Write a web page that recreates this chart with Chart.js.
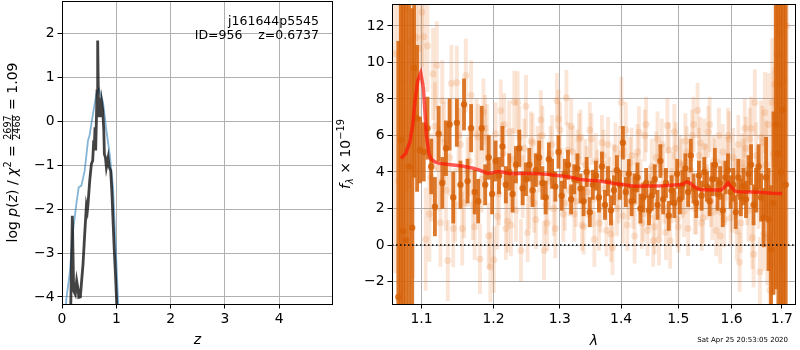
<!DOCTYPE html>
<html>
<head>
<meta charset="utf-8">
<script src="https://cdn.jsdelivr.net/npm/chart.js@4.4.1/dist/chart.umd.min.js"></script>
<style>
html, body { margin: 0; padding: 0; background: #fff; }
#wrap { position: relative; width: 800px; height: 350px; }
canvas { position: absolute; left: 0; top: 0; }
</style>
</head>
<body>
<div id="wrap">
  <canvas id="pz" width="800" height="350"></canvas>
  <canvas id="spec" width="800" height="350"></canvas>
</div>
<script>
// left panel: log p(z)
var zTicks = [0, 1, 2, 3, 4];
var logpTicks = [-4, -3, -2, -1, 0, 1, 2];
var zFit = [0.16, 0.19, 0.215, 0.245, 0.27, 0.295, 0.31, 0.338, 0.357, 0.387, 0.418, 0.449, 0.467, 0.479, 0.51, 0.541, 0.565, 0.584, 0.596, 0.608, 0.62, 0.633, 0.645, 0.657, 0.67, 0.681, 0.70, 0.71, 0.73, 0.75, 0.77, 0.78, 0.80, 0.817, 0.835, 0.85, 0.87, 0.897, 0.92, 0.96, 0.99, 1.01];
var logpFit = [-4.3, -2.15, -3.86, -3.94, -3.63, -3.82, -4.01, -4.0, -3.7, -3.25, -2.57, -1.92, -2.03, -1.88, -1.35, -0.97, -0.89, -0.43, -0.55, -0.13, -0.66, 0.02, 0.7, 1.85, 0.55, 0.1, 0.33, 0.1, 0.44, 0.25, -0.2, -0.74, -0.82, -1.04, -0.92, -0.82, -1.04, -1.12, -1.65, -2.87, -3.63, -4.24];
var zPrior = [0.06, 0.08, 0.142, 0.203, 0.265, 0.308, 0.357, 0.418, 0.479, 0.51, 0.571, 0.633, 0.681, 0.755, 0.817, 0.878, 0.94, 1.0, 1.03, 1.05];
var logpPrior = [-4.6, -4.04, -3.47, -2.49, -1.87, -1.5, -1.46, -1.12, -0.43, -0.3, 0.18, 0.63, 0.75, 0.44, -0.2, -0.74, -1.5, -3.17, -4.0, -4.5];

// right panel: spectrum
var lamTicks = [1.1, 1.2, 1.3, 1.4, 1.5, 1.6, 1.7];
var fluxTicks = [-2, 0, 2, 4, 6, 8, 10, 12];

var lamDark = [1.0697, 1.0729, 1.0759, 1.0794, 1.0835, 1.0877, 1.0903, 1.0942,
  1.098, 1.103, 1.108, 1.113, 1.118, 1.123, 1.128, 1.133, 1.138, 1.143,
  1.148, 1.153, 1.158, 1.163, 1.168, 1.173, 1.178, 1.183, 1.188, 1.193,
  1.198, 1.203, 1.208, 1.213, 1.218, 1.223, 1.228, 1.233, 1.238, 1.243,
  1.248, 1.253, 1.258, 1.263, 1.268, 1.273, 1.278, 1.283, 1.288, 1.293,
  1.298, 1.303, 1.308, 1.313, 1.318, 1.323, 1.328, 1.333, 1.338, 1.343,
  1.348, 1.353, 1.358, 1.363, 1.368, 1.373, 1.378, 1.383, 1.388, 1.393,
  1.398, 1.403, 1.408, 1.413, 1.418, 1.423, 1.428, 1.433, 1.438, 1.443,
  1.448, 1.453, 1.458, 1.463, 1.468, 1.473, 1.478, 1.483, 1.488, 1.493,
  1.498, 1.503, 1.508, 1.513, 1.518, 1.523, 1.528, 1.533, 1.538, 1.543,
  1.548, 1.553, 1.558, 1.563, 1.568, 1.573, 1.578, 1.583, 1.588, 1.593,
  1.598, 1.603, 1.608, 1.613, 1.618, 1.623, 1.628, 1.633, 1.638, 1.643,
  1.648, 1.653, 1.658, 1.663, 1.668, 1.673, 1.678, 1.683, 1.688, 1.693,
  1.698, 1.703, 1.708];
var fluxDark = [-2.85, 5.76, 0.77, 0.27, 4.3, 0.95, 9.7, 6.93,
  5.2, 5.1, 6.4, 4.3, 2.1, 6.1, 3.4, 5.3, 6.6, 2.6,
  6.7, 3.3, 7.7, 3.5, 6.4, 2.9, 2.4, 6.4, 3.3, 4.8,
  2.8, 4.6, 3.8, 5.4, 3.3, 4.0, 2.8, 4.4, 5.3, 3.1,
  3.6, 4.4, 3.0, 4.1, 4.8, 3.4, 2.6, 4.7, 3.9, 3.2,
  5.1, 2.7, 3.9, 4.4, 2.5, 3.6, 4.2, 3.1, 2.4, 4.0,
  1.8, 3.3, 3.8, 2.6, 4.3, 2.2, 3.5, 1.9, 3.0, 4.1,
  3.3, 5.6, 2.9, 3.9, 2.4, 3.1, 3.7, 2.0, 2.6, 3.4,
  1.9, 2.7, 3.6, 2.2, 4.6, 2.5, 3.4, 1.6, 3.0, 2.3,
  3.9, 2.5, 3.3, 4.2, 2.9, 4.9, 3.1, 2.3, 3.8, 2.7,
  4.0, 3.2, 2.4, 3.6, 4.4, 2.8, 3.4, 1.9, 3.7, 4.1,
  2.9, 3.3, 1.8, 3.7, 2.6, 3.2, 2.5, 3.9, 4.4, 2.2,
  3.0, 4.3, 2.6, 1.5, 3.7, 1.4, -0.25, 2.3, 6.6, 5.0,
  4.0, 7.4, 3.3];
var errDark = [14, 14, 14, 14, 13, 12, 6, 4,
  1.8, 1.6, 1.7, 1.5, 1.6, 1.5, 1.4, 1.5, 1.4, 1.4,
  1.3, 1.3, 1.4, 1.2, 1.3, 1.2, 1.2, 1.2, 1.1, 1.2,
  1.1, 1.1, 1.0, 1.1, 1.0, 1.0, 1.0, 1.0, 1.0, 0.9,
  0.9, 0.9, 0.9, 0.9, 0.9, 0.9, 0.9, 0.9, 0.8, 0.8,
  0.9, 0.8, 0.8, 0.8, 0.8, 0.8, 0.8, 0.8, 0.8, 0.8,
  0.8, 0.8, 0.8, 0.8, 0.8, 0.8, 0.8, 0.8, 0.8, 0.8,
  0.8, 0.9, 0.8, 0.8, 0.8, 0.8, 0.8, 0.8, 0.8, 0.8,
  0.8, 0.8, 0.8, 0.8, 0.9, 0.8, 0.8, 0.8, 0.8, 0.8,
  0.8, 0.8, 0.8, 0.8, 0.8, 0.9, 0.8, 0.8, 0.8, 0.8,
  0.8, 0.8, 0.8, 0.9, 0.9, 0.9, 0.9, 0.9, 0.9, 0.9,
  0.9, 0.9, 0.9, 1.0, 1.0, 1.0, 1.0, 1.0, 1.1, 1.1,
  1.2, 1.2, 1.3, 1.6, 2.2, 2.8, 3.5, 5, 9, 12,
  14, 14, 14];

var lamLight = [1.0656, 1.0700, 1.0745, 1.0790, 1.0846, 1.0890, 1.0934, 1.0968,
  1.1005, 1.1055, 1.1105, 1.1155, 1.1205, 1.1255, 1.1305, 1.1355, 1.1405, 1.1455,
  1.1505, 1.1555, 1.1605, 1.1655, 1.1705, 1.1755, 1.1805, 1.1855, 1.1905, 1.1955,
  1.2005, 1.2055, 1.2105, 1.2155, 1.2205, 1.2255, 1.2305, 1.2355, 1.2405, 1.2455,
  1.2505, 1.2555, 1.2605, 1.2655, 1.2705, 1.2755, 1.2805, 1.2855, 1.2905, 1.2955,
  1.3005, 1.3055, 1.3105, 1.3155, 1.3205, 1.3255, 1.3305, 1.3355, 1.3405, 1.3455,
  1.3505, 1.3555, 1.3605, 1.3655, 1.3705, 1.3755, 1.3805, 1.3855, 1.3905, 1.3955,
  1.4005, 1.4055, 1.4105, 1.4155, 1.4205, 1.4255, 1.4305, 1.4355, 1.4405, 1.4455,
  1.4505, 1.4555, 1.4605, 1.4655, 1.4705, 1.4755, 1.4805, 1.4855, 1.4905, 1.4955,
  1.5005, 1.5055, 1.5105, 1.5155, 1.5205, 1.5255, 1.5305, 1.5355, 1.5405, 1.5455,
  1.5505, 1.5555, 1.5605, 1.5655, 1.5705, 1.5755, 1.5805, 1.5855, 1.5905, 1.5955,
  1.6005, 1.6055, 1.6105, 1.6155, 1.6205, 1.6255, 1.6305, 1.6355, 1.6405, 1.6455,
  1.6505, 1.6555, 1.6605, 1.6655, 1.6705, 1.6755, 1.6805, 1.6855, 1.6905, 1.6955,
  1.7005, 1.7055, 1.7105];
var fluxLight = [10.47, 3.5, 8.9, 12.9, 11.1, 4.2, 11.37, 10.77,
  12.75, 0.32, 1.7, 9.37, 9.84, 1.22, 5.6, -0.85, 8.84, 2.2,
  6.0, 0.9, 9.28, 4.6, 2.2, 6.1, -0.76, 7.3, 5.9, -1.21,
  -0.8, 1.58, 7.35, 6.6, 1.3, 1.1, 7.83, 7.8, -0.3, 5.3,
  0.68, 5.7, 2.3, 4.9, 6.86, -0.3, 1.2, 5.0, 2.0, 7.9,
  6.3, 1.7, 8.07, 3.0, 5.1, 2.4, 5.8, 1.1, 4.4, 2.9,
  5.8, 0.32, 3.8, 2.1, 4.9, 0.8, 3.4, -0.13, 5.3, 2.6,
  7.8, 3.9, 1.1, 4.5, 2.3, 3.6, 6.18, 1.2, 6.0, 0.8,
  2.9, 0.23, 4.8, 0.3, 5.5, 2.6, 6.54, 0.23, 3.7, 5.3,
  1.0, 4.4, 1.85, 5.1, 3.3, 6.0, 2.0, 7.37, 5.6, 1.5,
  4.1, 6.2, 2.4, 4.6, 0.8, 6.0, 3.1, 1.4, 4.4, 5.8,
  2.2, 3.8, 0.77, -0.94, 4.5, 6.4, 2.7, 5.8, 0.4, 7.8,
  3.6, -1.48, 5.6, 7.26, 0.4, -2.47, 7.8, 8.8, 10.4, 11.6,
  -3.2, 9.0, 12.0];
var errLight = [12, 12, 12, 10, 8, 6, 5, 4,
  3.0, 2.8, 2.6, 2.5, 2.4, 2.4, 2.2, 2.2, 2.1, 2.0,
  2.0, 2.0, 2.0, 1.9, 1.9, 1.9, 1.9, 1.8, 1.8, 1.9,
  1.8, 1.8, 1.7, 1.7, 1.7, 1.7, 1.7, 1.7, 1.7, 1.6,
  1.6, 1.6, 1.6, 1.6, 1.6, 1.6, 1.5, 1.5, 1.5, 1.5,
  1.5, 1.5, 1.5, 1.4, 1.4, 1.4, 1.4, 1.4, 1.4, 1.4,
  1.4, 1.5, 1.4, 1.4, 1.4, 1.4, 1.4, 1.5, 1.4, 1.4,
  1.4, 1.4, 1.4, 1.4, 1.4, 1.4, 1.4, 1.4, 1.4, 1.4,
  1.4, 1.4, 1.4, 1.4, 1.4, 1.4, 1.5, 1.5, 1.4, 1.4,
  1.4, 1.4, 1.4, 1.4, 1.4, 1.4, 1.4, 1.5, 1.4, 1.4,
  1.4, 1.4, 1.4, 1.4, 1.4, 1.5, 1.5, 1.5, 1.5, 1.5,
  1.5, 1.5, 1.6, 1.6, 1.6, 1.6, 1.6, 1.7, 1.7, 1.8,
  1.8, 1.9, 2.0, 2.2, 2.6, 3.0, 3.5, 4.5, 6, 8,
  10, 12, 12];

// second faint spectrum (other orient)
var lamLight2 = [1.103, 1.108, 1.113, 1.118, 1.123, 1.128, 1.133, 1.138, 1.143, 1.148,
  1.153, 1.158, 1.163, 1.168, 1.173, 1.178, 1.183, 1.188, 1.193, 1.198,
  1.203, 1.208, 1.213, 1.218, 1.223, 1.228, 1.233, 1.238, 1.243, 1.248,
  1.253, 1.258, 1.263, 1.268, 1.273, 1.278, 1.283, 1.288, 1.293, 1.298,
  1.303, 1.308, 1.313, 1.318, 1.323, 1.328, 1.333, 1.338, 1.343, 1.348,
  1.353, 1.358, 1.363, 1.368, 1.373, 1.378, 1.383, 1.388, 1.393, 1.398,
  1.403, 1.408, 1.413, 1.418, 1.423, 1.428, 1.433, 1.438, 1.443, 1.448,
  1.453, 1.458, 1.463, 1.468, 1.473, 1.478, 1.483, 1.488, 1.493, 1.498,
  1.503, 1.508, 1.513, 1.518, 1.523, 1.528, 1.533, 1.538, 1.543, 1.548,
  1.553, 1.558, 1.563, 1.568, 1.573, 1.578, 1.583, 1.588, 1.593, 1.598,
  1.603, 1.608, 1.613, 1.618, 1.623, 1.628, 1.633, 1.638, 1.643, 1.648,
  1.653, 1.658, 1.663, 1.668, 1.673, 1.678, 1.683, 1.688, 1.693, 1.698];
var fluxLight2 = [11.4, 10.9, 3.7, 6.5, 4.2, 7.9, 3.0, 4.8, 0.9, 8.9,
  5.5, 2.3, 4.0, 8.2, 1.0, 5.9, 3.6, 6.4, 0.5, 4.3,
  6.1, 2.8, 5.0, 0.9, 6.2, 4.7, 1.9, 5.9, 3.2, 7.6,
  2.5, 5.6, 1.4, 4.5, 6.0, 2.2, 3.5, 5.5, 0.9, 6.9,
  3.8, 2.3, 5.2, 6.5, 1.7, 4.8, 5.9, 1.0, 3.9, 6.3,
  2.5, 4.6, 1.2, 5.6, 3.1, 5.5, 0.6, 4.0, 2.0, 5.0,
  1.6, 6.3, 2.9, 4.9, 0.5, 5.1, 3.2, 1.7, 6.6, 2.4,
  4.3, 1.0, 5.8, 2.0, 4.0, 0.7, 5.2, 2.7, 6.2, 1.4,
  4.5, 3.0, 5.7, 0.9, 4.1, 6.6, 2.1, 4.9, 1.2, 5.4,
  2.9, 6.6, 1.8, 4.3, 3.2, 0.5, 5.1, 2.6, 6.0, 1.5,
  4.8, 3.1, 5.5, 1.2, 4.2, 5.3, 1.9, 6.4, -0.5, 4.9,
  2.8, 5.9, 0.6, 4.4, 6.6, -1.0, 5.0, 9.6, 12.3, 8.8];
var errLight2 = [2.6, 2.5, 2.4, 2.4, 2.3, 2.2, 2.2, 2.1, 2.1, 2.0,
  2.0, 1.9, 1.9, 1.9, 1.8, 1.8, 1.8, 1.8, 1.8, 1.7,
  1.7, 1.7, 1.7, 1.7, 1.7, 1.7, 1.7, 1.7, 1.7, 1.7,
  1.6, 1.6, 1.6, 1.6, 1.6, 1.6, 1.6, 1.6, 1.6, 1.6,
  1.5, 1.5, 1.5, 1.5, 1.5, 1.5, 1.5, 1.5, 1.5, 1.5,
  1.5, 1.5, 1.5, 1.5, 1.5, 1.5, 1.5, 1.5, 1.5, 1.5,
  1.5, 1.5, 1.5, 1.5, 1.5, 1.5, 1.5, 1.5, 1.5, 1.5,
  1.5, 1.5, 1.5, 1.5, 1.5, 1.5, 1.5, 1.5, 1.5, 1.5,
  1.5, 1.5, 1.5, 1.5, 1.5, 1.5, 1.5, 1.5, 1.5, 1.5,
  1.5, 1.5, 1.5, 1.5, 1.5, 1.5, 1.5, 1.5, 1.5, 1.5,
  1.6, 1.6, 1.6, 1.6, 1.6, 1.7, 1.7, 1.7, 1.8, 1.8,
  1.9, 2.0, 2.0, 2.4, 2.8, 3.5, 4.5, 6, 8, 10];

var lamModel = [1.073, 1.079, 1.0847, 1.0885, 1.0912, 1.095, 1.099, 1.1025, 1.1066, 1.110, 1.113, 1.118, 1.124, 1.14, 1.155, 1.1695, 1.18, 1.1917, 1.198, 1.2065, 1.215, 1.225, 1.24, 1.26, 1.28, 1.2895, 1.30, 1.315, 1.33, 1.345, 1.36, 1.38, 1.3915, 1.41, 1.425, 1.45, 1.475, 1.4994, 1.508, 1.515, 1.522, 1.53, 1.54, 1.56, 1.58, 1.587, 1.593, 1.60, 1.607, 1.62, 1.64, 1.66, 1.68, 1.7005];
var fluxModel = [4.74, 5.0, 5.64, 6.6, 7.8, 9.0, 9.42, 8.6, 6.0, 5.0, 4.7, 4.55, 4.47, 4.4, 4.33, 4.22, 4.1, 3.92, 3.95, 4.02, 3.98, 3.9, 3.92, 3.92, 3.88, 3.84, 3.8, 3.73, 3.6, 3.55, 3.52, 3.42, 3.35, 3.28, 3.22, 3.23, 3.25, 3.3, 3.32, 3.47, 3.38, 3.18, 3.04, 3.02, 3.02, 3.2, 3.42, 3.15, 2.95, 2.9, 2.9, 2.88, 2.84, 2.82];

var lamRange = [1.0615, 1.7294];
var fluxRange = [-3.23, 13.2];
var zRange = [0, 4.99];
var logpRange = [-4.16, 2.75];

function pts(xs, ys) { return xs.map(function (x, i) { return { x: x, y: ys[i] }; }); }
function bars(xs, ys, es) { return xs.map(function (x, i) { return { x: x, y: [ys[i] - es[i], ys[i] + es[i]] }; }); }
function minus(v) { return (v < 0 ? '\u2212' : '') + Math.abs(v); }

var FAM = '"DejaVu Sans"';
function R(s) { return s + 'px ' + FAM; }
function I(s) { return 'italic ' + s + 'px ' + FAM; }

// fixed box size for each axis, no extra label padding around the plot area
function fixSize(prop, size) {
  return function (s) {
    s[prop] = size;
    s.paddingTop = 0; s.paddingBottom = 0; s.paddingLeft = 0; s.paddingRight = 0;
  };
}

function axis(range, tickVals, fmt, fit, extra) {
  var o = {
    min: range[0], max: range[1],
    afterBuildTicks: function (s) { s.ticks = tickVals.map(function (v) { return { value: v }; }); },
    afterFit: fit,
    ticks: { callback: fmt, color: '#000', font: { family: 'DejaVu Sans', size: 13.9 }, padding: 3, maxRotation: 0, autoSkip: false },
    grid: { color: '#b0b0b0', lineWidth: 1, tickColor: '#000', tickLength: 4.5, offset: false },
    border: { display: false }
  };
  for (var k in extra) o[k] = extra[k];
  return o;
}

function runsWidth(ctx, runs) {
  var w = 0;
  runs.forEach(function (r) {
    ctx.font = r.f;
    if (r.frac) r.w = Math.max(ctx.measureText(r.frac[0]).width, ctx.measureText(r.frac[1]).width) + 2;
    else r.w = ctx.measureText(r.t).width;
    w += r.w;
  });
  return w;
}
function drawRuns(ctx, runs, x, y) {
  runs.forEach(function (r) {
    ctx.font = r.f;
    if (r.frac) {
      ctx.textAlign = 'center';
      ctx.fillText(r.frac[0], x + r.w / 2, y - 5.6);
      ctx.fillText(r.frac[1], x + r.w / 2, y + 3.6);
      ctx.fillRect(x + 0.5, y - 4.8, r.w - 1, 0.9);
      ctx.textAlign = 'left';
    } else {
      ctx.fillText(r.t, x, y + (r.dy || 0));
    }
    x += r.w;
  });
}
function vLabel(ctx, runs, bx, cy) {
  ctx.save();
  ctx.translate(bx, cy);
  ctx.rotate(-Math.PI / 2);
  ctx.textAlign = 'left';
  ctx.textBaseline = 'alphabetic';
  var w = runsWidth(ctx, runs);
  drawRuns(ctx, runs, -w / 2, 0);
  ctx.restore();
}

var frame = {
  id: 'frame',
  afterDraw: function (c) {
    var a = c.chartArea, ctx = c.ctx;
    var x0 = Math.round(a.left) + 0.5, y0 = Math.round(a.top) + 0.5;
    var x1 = Math.round(a.right) - 0.5, y1 = Math.round(a.bottom) + 0.5;
    ctx.save();
    ctx.strokeStyle = '#000';
    ctx.lineWidth = 1;
    ctx.strokeRect(x0, y0, x1 - x0, y1 - y0);
    ctx.restore();
  }
};

var leftText = {
  id: 'leftText',
  afterDraw: function (c) {
    var a = c.chartArea, ctx = c.ctx;
    ctx.save();
    ctx.fillStyle = '#000';
    ctx.font = I(14);
    ctx.textAlign = 'center';
    ctx.textBaseline = 'alphabetic';
    ctx.fillText('z', (a.left + a.right) / 2, 344);
    ctx.font = R(12.5);
    ctx.textAlign = 'right';
    ctx.fillText('j161644p5545', a.right - 14, 25);
    ctx.fillText('ID=956    z=0.6737', a.right - 14, 39);
    vLabel(ctx, [
      { t: 'log ', f: R(14) }, { t: 'p', f: I(14) }, { t: '(', f: R(14) }, { t: 'z', f: I(14) },
      { t: ') / ', f: R(14) }, { t: '\u03c7', f: I(14) }, { t: '2', f: R(9.8), dy: -5.5 },
      { t: ' = ', f: R(14) }, { frac: ['2697', '2468'], f: R(9.6) }, { t: ' = 1.09', f: R(14) }
    ], 16.7, (a.top + a.bottom) / 2);
    ctx.restore();
  }
};

var rightText = {
  id: 'rightText',
  afterDraw: function (c) {
    var a = c.chartArea, ctx = c.ctx;
    ctx.save();
    ctx.fillStyle = '#000';
    ctx.font = I(14);
    ctx.textAlign = 'center';
    ctx.textBaseline = 'alphabetic';
    ctx.fillText('\u03bb', (a.left + a.right) / 2, 345);
    ctx.font = R(7);
    ctx.textAlign = 'right';
    ctx.fillText('Sat Apr 25 20:53:05 2020', 788, 342);
    vLabel(ctx, [
      { t: 'f', f: I(14) }, { t: '\u03bb', f: I(9.8), dy: 3 }, { t: ' \u00d7 10', f: R(14) }, { t: '\u221219', f: R(9.8), dy: -6 }
    ], 350, (a.top + a.bottom) / 2);
    ctx.restore();
  }
};

new Chart(document.getElementById('pz'), {
  type: 'scatter',
  data: {
    datasets: [
      { data: pts(zFit, logpFit), showLine: true, pointRadius: 0, borderColor: 'rgba(20,20,20,0.8)', borderWidth: 2.8, order: 0 },
      { data: pts(zPrior, logpPrior), showLine: true, pointRadius: 0, borderColor: 'rgba(31,119,180,0.55)', borderWidth: 1.8, order: 1 }
    ]
  },
  options: {
    responsive: false, animation: false, devicePixelRatio: 1,
    layout: { padding: { left: 0, top: 1, right: 467, bottom: 0 } },
    plugins: { legend: { display: false }, tooltip: { enabled: false } },
    scales: {
      x: axis(zRange, zTicks, function (v) { return minus(v); }, fixSize('height', 46), { type: 'linear' }),
      y: axis(logpRange, logpTicks, function (v) { return minus(v); }, fixSize('width', 62), { type: 'linear' })
    }
  },
  plugins: [frame, leftText]
});

var darkC = 'rgba(214,98,8,0.85)';
var lightC = 'rgba(232,125,50,0.2)';

new Chart(document.getElementById('spec'), {
  type: 'bar',
  data: {
    datasets: [
      { type: 'bar', data: bars(lamLight, fluxLight, errLight), backgroundColor: lightC, barThickness: 3.2, grouped: false, order: 8 },
      { type: 'scatter', data: pts(lamLight, fluxLight), backgroundColor: lightC, borderWidth: 0, pointRadius: 3.5, order: 7 },
      { type: 'bar', data: bars(lamLight2, fluxLight2, errLight2), backgroundColor: lightC, barThickness: 3.2, grouped: false, order: 6 },
      { type: 'scatter', data: pts(lamLight2, fluxLight2), backgroundColor: lightC, borderWidth: 0, pointRadius: 3.5, order: 5 },
      { type: 'bar', data: bars(lamDark, fluxDark, errDark), backgroundColor: darkC, barThickness: 3.2, grouped: false, order: 4 },
      { type: 'scatter', data: pts(lamDark, fluxDark), backgroundColor: darkC, borderWidth: 0, pointRadius: 3.2, order: 3 },
      { type: 'scatter', data: pts(lamModel, fluxModel), showLine: true, pointRadius: 0, borderColor: 'rgba(255,20,10,0.7)', borderWidth: 3.5, order: 2 },
      { type: 'scatter', data: pts(lamRange, [0, 0]), showLine: true, pointRadius: 0, borderColor: '#000', borderWidth: 1.5, borderDash: [1.5, 2.5], order: 1 }
    ]
  },
  options: {
    responsive: false, animation: false, devicePixelRatio: 1,
    layout: { padding: { left: 0, top: 1, right: 1, bottom: 0 } },
    plugins: { legend: { display: false }, tooltip: { enabled: false } },
    scales: {
      x: axis(lamRange, lamTicks, function (v) { return v.toFixed(1); }, fixSize('height', 46), { type: 'logarithmic', offset: false }),
      y: axis(fluxRange, fluxTicks, function (v) { return minus(v); }, fixSize('width', 392), { type: 'linear' })
    }
  },
  plugins: [frame, rightText]
});
</script>
</body>
</html>
